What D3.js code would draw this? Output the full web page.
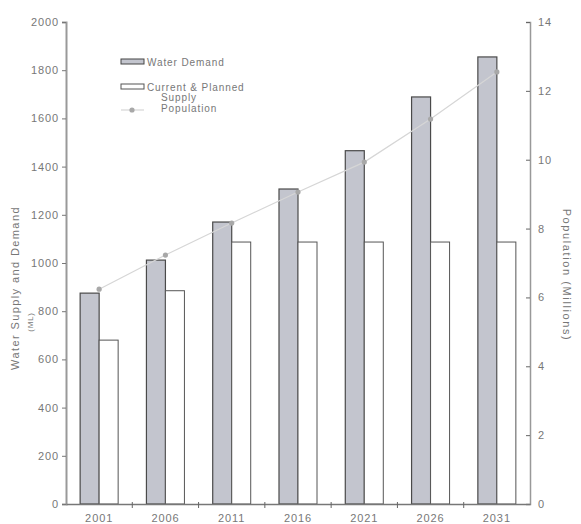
<!DOCTYPE html>
<html>
<head>
<meta charset="utf-8">
<script src="https://cdn.jsdelivr.net/npm/d3@7"></script>
<style>
  body { margin: 0; background: #fff; }
  svg { display: block; }
  text { font-family: "Liberation Sans", Arial, sans-serif; fill: #777; }
</style>
</head>
<body>
<svg id="chart" width="581" height="524"></svg>
<script>
// Projected water demand, supply and population by year
const years = ["2001", "2006", "2011", "2016", "2021", "2026", "2031"];
const demand = [875, 1012, 1170, 1307, 1466, 1689, 1855];
const supply = [680, 885, 1087, 1087, 1087, 1087, 1087];
const population = [6.24, 7.23, 8.16, 9.06, 9.93, 11.18, 12.55];
const leftTicks = [0, 200, 400, 600, 800, 1000, 1200, 1400, 1600, 1800, 2000];
const rightTicks = [0, 2, 4, 6, 8, 10, 12, 14];

const svg = d3.select("#chart");
const plotLeft = 66, plotRight = 530, plotTop = 22, plotBottom = 504;
const barW = 19;

const x = d3.scaleBand().domain(years).range([plotLeft, plotRight]);
const yL = d3.scaleLinear().domain([0, 2000]).range([plotBottom, plotTop]);
const yR = d3.scaleLinear().domain([0, 14]).range([plotBottom, plotTop]);
const cx = d => x(d) + x.bandwidth() / 2;

// Bars: demand (grey) left of centre, supply (white) right of centre
svg.append("g").selectAll("rect").data(years).join("rect")
  .attr("x", d => cx(d) - barW)
  .attr("y", (d, i) => yL(demand[i]))
  .attr("width", barW)
  .attr("height", (d, i) => plotBottom - yL(demand[i]))
  .attr("fill", "#c3c5ce").attr("stroke", "#4a4a4a").attr("stroke-width", 1.2);

svg.append("g").selectAll("rect").data(years).join("rect")
  .attr("x", d => cx(d))
  .attr("y", (d, i) => yL(supply[i]))
  .attr("width", barW)
  .attr("height", (d, i) => plotBottom - yL(supply[i]))
  .attr("fill", "#fff").attr("stroke", "#555").attr("stroke-width", 1);

// Population line on the right-hand scale
const line = d3.line().x((d, i) => cx(years[i])).y(d => yR(d));
svg.append("path").datum(population)
  .attr("d", line).attr("fill", "none")
  .attr("stroke", "#d6d6d6").attr("stroke-width", 1.2);
svg.append("g").selectAll("circle").data(population).join("circle")
  .attr("cx", (d, i) => cx(years[i])).attr("cy", d => yR(d))
  .attr("r", 2.6).attr("fill", "#a8a8a8");

// Left axis
const gL = svg.append("g").attr("transform", `translate(${plotLeft},0)`)
  .call(d3.axisLeft(yL).tickValues(leftTicks).tickSize(4).tickPadding(3).tickFormat(d3.format("d")));
gL.select(".domain").attr("stroke", "#999").attr("stroke-width", 2);
gL.selectAll(".tick line").attr("stroke", "#777");
gL.selectAll("text").attr("font-size", 11).attr("letter-spacing", "0.9px").attr("fill", "#777");

// Right axis
const gR = svg.append("g").attr("transform", `translate(${plotRight},0)`)
  .call(d3.axisRight(yR).tickValues(rightTicks).tickSize(-4).tickPadding(8).tickFormat(d3.format("d")));
gR.select(".domain").attr("stroke", "#999").attr("stroke-width", 1.5);
gR.selectAll(".tick line").attr("stroke", "#666");
gR.selectAll("text").attr("font-size", 11).attr("letter-spacing", "0.9px").attr("fill", "#777");

// Bottom axis with ticks between categories
const gB = svg.append("g").attr("transform", `translate(0,${plotBottom})`)
  .call(d3.axisBottom(x).tickSize(0).tickPadding(10));
gB.select(".domain").attr("stroke", "#777").attr("stroke-width", 1.5);
gB.selectAll("text").attr("font-size", 11).attr("letter-spacing", "0.9px").attr("fill", "#777");
gB.selectAll(".sep").data(years.slice(1)).join("line").attr("class", "sep")
  .attr("x1", d => x(d)).attr("x2", d => x(d))
  .attr("y1", -2).attr("y2", 4).attr("stroke", "#666");

// Axis titles
svg.append("text").attr("transform", "translate(19,288) rotate(-90)")
  .attr("text-anchor", "middle").attr("font-size", 11).attr("letter-spacing", "1.4px")
  .text("Water Supply and Demand");
svg.append("text").attr("transform", "translate(33,322) rotate(-90)")
  .attr("text-anchor", "middle").attr("font-size", 8).attr("letter-spacing", "0.8px")
  .text("(ML)");
svg.append("text").attr("transform", "translate(563,275) rotate(90)")
  .attr("text-anchor", "middle").attr("font-size", 11).attr("letter-spacing", "1.6px")
  .text("Population (Millions)");

// Legend
const lg = svg.append("g");
lg.append("rect").attr("x", 121).attr("y", 59).attr("width", 23).attr("height", 5)
  .attr("fill", "#c3c5ce").attr("stroke", "#444");
lg.append("text").attr("x", 147).attr("y", 66).attr("font-size", 10).attr("letter-spacing", "0.9px")
  .attr("fill", "#666").text("Water Demand");
lg.append("rect").attr("x", 121).attr("y", 84).attr("width", 23).attr("height", 5)
  .attr("fill", "#fff").attr("stroke", "#555");
lg.append("text").attr("x", 147).attr("y", 91).attr("font-size", 10).attr("letter-spacing", "0.9px")
  .attr("fill", "#666").text("Current & Planned");
lg.append("text").attr("x", 161).attr("y", 101).attr("font-size", 10).attr("letter-spacing", "0.9px")
  .attr("fill", "#666").text("Supply");
lg.append("line").attr("x1", 121).attr("x2", 144).attr("y1", 110).attr("y2", 110)
  .attr("stroke", "#d6d6d6").attr("stroke-width", 1.2);
lg.append("circle").attr("cx", 132).attr("cy", 110).attr("r", 2.6).attr("fill", "#a8a8a8");
lg.append("text").attr("x", 161).attr("y", 112).attr("font-size", 10).attr("letter-spacing", "0.9px")
  .attr("fill", "#666").text("Population");
</script>
</body>
</html>
